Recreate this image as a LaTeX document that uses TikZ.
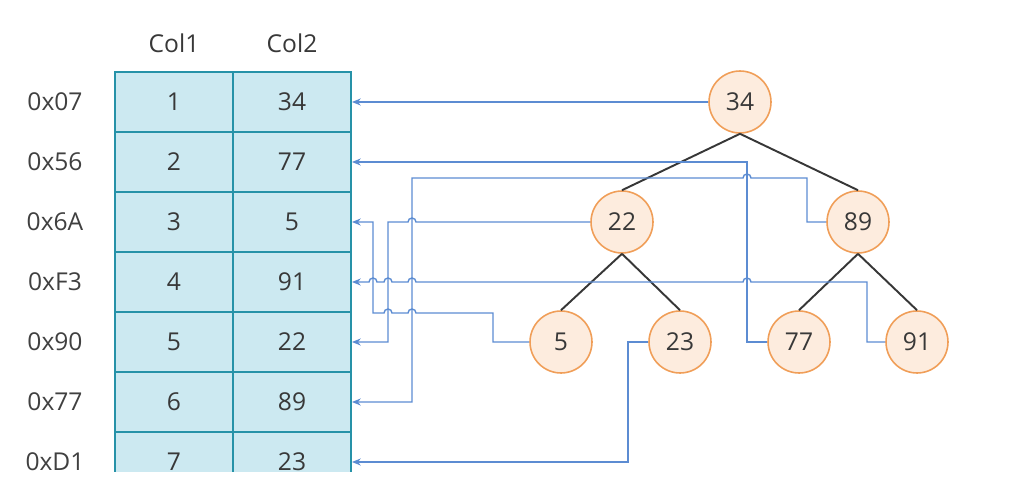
\documentclass[tikz,border=0pt]{standalone}
\usepackage{fontspec}
\setmainfont{Open Sans}
\usetikzlibrary{arrows.meta,positioning,calc}

\definecolor{cellfill}{RGB}{204,233,241}
\definecolor{cellline}{RGB}{38,146,168}
\definecolor{keyfill}{RGB}{253,236,222}
\definecolor{keyline}{RGB}{240,158,88}
\definecolor{linkblue}{RGB}{92,140,210}
\definecolor{edgegray}{RGB}{55,55,55}

\tikzset{
  cell/.style={draw=cellline, fill=cellfill, line width=1.1pt, minimum width=2.36cm, minimum height=1.2cm, inner sep=0pt},
  key/.style={circle, draw=keyline, fill=keyfill, line width=0.9pt, minimum size=1.24cm, inner sep=0pt},
  addr/.style={text=black!75},
  link/.style={linkblue, line width=0.8pt, -{Stealth[length=5pt,width=4pt]}},
  edge/.style={edgegray, line width=1.1pt}
}

\begin{document}
\begin{tikzpicture}[x=0.02cm, y=-0.02cm, font=\fontsize{14}{16}\selectfont, text=black!78]
    \useasboundingbox (0,0) rectangle (1018,500);

    % Header
    \node (h1) at (174,43) {Col1};
    \node (h2) at (292,43) {Col2};

    % Table
    \begin{scope}
        \clip (0,0) rectangle (1018,471);
        \foreach \r/\a/\v/\b [count=\i] in {0x07/1/34/1, 0x56/2/77/2, 0x6A/3/5/3, 0xF3/4/91/4, 0x90/5/22/5, 0x77/6/89/6, 0xD1/7/23/7} {
            \node[cell] (a\i) at (174,42+60*\i) {\a};
            \node[cell] (b\i) at (292,42+60*\i) {\v};
            \node[addr] (r\i) at (55,42+60*\i) {\r};
        }
    \end{scope}

    % Tree
    \node[key] (k34) at (740,102) {34};
    \node[key] (k22) at (622,222) {22};
    \node[key] (k89) at (858,222) {89};
    \node[key] (k5) at (561,342) {5};
    \node[key] (k23) at (680,342) {23};
    \node[key] (k77) at (799,342) {77};
    \node[key] (k91) at (917,342) {91};

    \draw[edge] (k34.south) -- (k22.north);
    \draw[edge] (k34.south) -- (k89.north);
    \draw[edge] (k22.south) -- (k5.north);
    \draw[edge] (k22.south) -- (k23.north);
    \draw[edge] (k89.south) -- (k77.north);
    \draw[edge] (k89.south) -- (k91.north);

    % Pointers
    \draw[link] (k34) -- (b1.east);
    \draw[link] (k77.west) -- (747,342) |- (b2.east);
    \draw[link] (k5.west) -- (493,342) -- (493,313)
        \foreach \x in {412,388} { -- (\x+4,313) arc (0:180:0.08cm) } -- (373,313) |- (b3.east);
    \draw[link] (k91.west) -- (867,342) -- (867,282)
        \foreach \x in {747,412,388,373} { -- (\x+4,282) arc (0:180:0.08cm) } -- (b4.east);
    \draw[link] (k22.west) \foreach \x in {412} { -- (\x+4,222) arc (0:180:0.08cm) } -- (388,222) |- (b5.east);
    \draw[link] (k89.west) -- (807,222) -- (807,178)
        \foreach \x in {747} { -- (\x+4,178) arc (0:180:0.08cm) } -- (412,178) |- (b6.east);
    \draw[link] (k23.west) -- (628,342) |- (b7.east);
\end{tikzpicture}
\end{document}
